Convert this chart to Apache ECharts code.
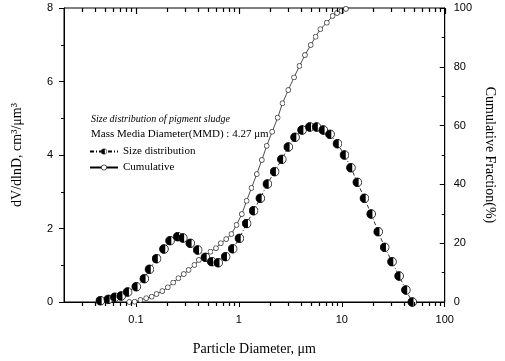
<!DOCTYPE html>
<html>
<head>
<meta charset="utf-8">
<script src="https://cdn.jsdelivr.net/npm/echarts@6/dist/echarts.min.js"></script>
<style>
  html, body { margin: 0; padding: 0; background: #fff; }
  #chart { width: 505px; height: 361px; }
</style>
</head>
<body>
<div id="chart"></div>
<script>
// particle diameters (um) and dV/dlnD for the size distribution
var distD = [0.0451, 0.0539, 0.0623, 0.0718, 0.083, 0.1007, 0.1205, 0.1353, 0.1584, 0.187,
  0.2143, 0.2546, 0.2854, 0.337, 0.3978, 0.4727, 0.545, 0.6295, 0.7434, 0.87,
  1.012, 1.189, 1.389, 1.615, 1.891, 2.223, 2.613, 3.019, 3.511, 4.109,
  4.882, 5.679, 6.602, 7.68, 9.067, 10.61, 12.26, 14.14, 16.58, 19.28,
  22.56, 26.08, 30.72, 36.03, 41.9, 48.31];
var distV = [0.035, 0.073, 0.128, 0.163, 0.272, 0.416, 0.634, 0.89, 1.178, 1.442,
  1.668, 1.777, 1.741, 1.597, 1.415, 1.216, 1.097, 1.069, 1.233, 1.448,
  1.733, 2.136, 2.484, 2.822, 3.211, 3.546, 3.883, 4.218, 4.482, 4.68,
  4.762, 4.762, 4.68, 4.563, 4.307, 4.0, 3.654, 3.257, 2.822, 2.395,
  1.913, 1.488, 1.097, 0.707, 0.327, 0.0];

// diameters (um) and cumulative fraction (%)
var cumD = [0.0861, 0.0971, 0.1105, 0.1258, 0.1423, 0.1584, 0.1804, 0.2039, 0.2301, 0.2585,
  0.2916, 0.3249, 0.3697, 0.409, 0.4656, 0.5299, 0.5993, 0.6676, 0.753, 0.8458,
  0.9484, 1.068, 1.189, 1.325, 1.492, 1.672, 1.863, 2.106, 2.381, 2.653,
  3.019, 3.436, 3.877, 4.384, 4.989, 5.558, 6.189, 7.152, 8.138, 8.987,
  9.945, 10.96];
var cumV = [0, 0.1, 0.7, 1.3, 1.8, 2.7, 3.7, 5.0, 6.6, 8.1,
  9.5, 10.9, 12.6, 14.3, 15.6, 17.1, 18.3, 20.0, 21.4, 23.1,
  26.2, 29.9, 34.4, 38.8, 43.5, 48.3, 53.1, 57.9, 62.7, 67.6,
  72.1, 76.4, 80.3, 84.0, 87.4, 90.2, 92.8, 95.0, 97.3, 98.3,
  99.0, 99.7];

// log-axis tick positions (major decades and minor 2..9 steps)
var majorTicks = [0.1, 1, 10, 100];
var minorTicks = [0.03, 0.04, 0.05, 0.06, 0.07, 0.08, 0.09,
  0.2, 0.3, 0.4, 0.5, 0.6, 0.7, 0.8, 0.9,
  2, 3, 4, 5, 6, 7, 8, 9,
  20, 30, 40, 50, 60, 70, 80, 90];

var serif = '"Liberation Serif", "DejaVu Serif", serif';
var sans = '"Liberation Sans", Arial, sans-serif';

// half filled circle marker
var halfSvg = "<svg xmlns='http://www.w3.org/2000/svg' width='20' height='20' viewBox='0 0 20 20'>" +
  "<circle cx='10' cy='10' r='8.8' fill='white' stroke='black' stroke-width='1.6'/>" +
  "<path d='M12.6 1.6 A8.8 8.8 0 1 0 12.6 18.4 Z' fill='black'/></svg>";
var halfSymbol = 'image://data:image/svg+xml;utf8,' + encodeURIComponent(halfSvg);
// thin open circle marker
var openSvg = "<svg xmlns='http://www.w3.org/2000/svg' width='24' height='24' viewBox='0 0 24 24'>" +
  "<circle cx='12' cy='12' r='10' fill='white' stroke='black' stroke-width='2.6'/></svg>";
var openSymbol = 'image://data:image/svg+xml;utf8,' + encodeURIComponent(openSvg);

function pairs(xs, ys) {
  return xs.map(function (x, i) { return [x, ys[i]]; });
}

var chart = echarts.init(document.getElementById('chart'), null, { renderer: 'canvas' });

chart.setOption({
  backgroundColor: '#fff',
  animation: false,
  grid: { left: 64, right: 46, top: 8, bottom: 59, show: true, borderColor: '#000', borderWidth: 1, backgroundColor: 'transparent' },
  title: {
    left: 86, top: 109,
    text: 'Size distribution of pigment sludge',
    subtext: 'Mass Media Diameter(MMD) : 4.27 μm',
    itemGap: 5,
    textStyle: { fontFamily: serif, fontSize: 10, fontStyle: 'italic', fontWeight: 'normal', color: '#000' },
    subtextStyle: { fontFamily: serif, fontSize: 11, color: '#000' }
  },
  legend: {
    left: 84, top: 141,
    orient: 'vertical',
    itemWidth: 28, itemHeight: 8, itemGap: 5,
    textStyle: { fontFamily: serif, fontSize: 11, color: '#000' },
    data: ['Size distribution', 'Cumulative']
  },
  xAxis: {
    type: 'log',
    min: 0.02,
    max: 100,
    name: 'Particle Diameter, μm',
    nameLocation: 'middle',
    nameGap: 40,
    nameTextStyle: { fontFamily: serif, fontSize: 14, color: '#000' },
    axisLine: { show: true, lineStyle: { color: '#000', width: 1 } },
    axisTick: { show: true, inside: false, length: 5, lineStyle: { color: '#000' } },
    splitLine: { show: false },
    axisLabel: {
      color: '#000', fontFamily: sans, fontSize: 11, margin: 12,
      showMinLabel: false,
      formatter: function (v) { return String(v); }
    }
  },
  yAxis: [
    {
      type: 'value',
      position: 'left',
      min: 0, max: 8, interval: 2,
      name: 'dV/dlnD, cm³/μm³',
      nameLocation: 'middle',
      nameGap: 40,
      nameTextStyle: { fontFamily: serif, fontSize: 14, color: '#000' },
      axisLine: { show: true, lineStyle: { color: '#000' } },
      axisTick: { show: true, inside: false, length: 5, lineStyle: { color: '#000' } },
      minorTick: { show: true, splitNumber: 2, length: 3, lineStyle: { color: '#000' } },
      axisLabel: { color: '#000', fontFamily: sans, fontSize: 11, margin: 11 },
      splitLine: { show: false }
    },
    {
      type: 'value',
      position: 'right',
      min: 0, max: 100, interval: 20,
      name: 'Cumulative Fraction(%)',
      nameLocation: 'middle',
      nameRotate: -90,
      nameGap: 34,
      nameTextStyle: { fontFamily: serif, fontSize: 14, color: '#000' },
      axisLine: { show: true, lineStyle: { color: '#000' } },
      axisTick: { show: true, inside: true, length: 5, lineStyle: { color: '#000' } },
      minorTick: { show: true, splitNumber: 2, length: 3, lineStyle: { color: '#000' } },
      axisLabel: { color: '#000', fontFamily: sans, fontSize: 11, margin: 9 },
      splitLine: { show: false }
    }
  ],
  series: [
    {
      name: 'Cumulative',
      type: 'line',
      yAxisIndex: 1,
      data: pairs(cumD, cumV),
      symbol: openSymbol,
      symbolSize: 6,
      showAllSymbol: true,
      itemStyle: { color: '#000' },
      lineStyle: { color: '#000', width: 0.7 },
      z: 2
    },
    {
      name: 'Size distribution',
      type: 'line',
      yAxisIndex: 0,
      data: pairs(distD, distV),
      symbol: halfSymbol,
      symbolSize: 10,
      showAllSymbol: true,
      itemStyle: { color: '#000' },
      lineStyle: { color: '#000', width: 0.8, type: [4, 2, 1, 2] },
      z: 3
    }
  ]
});

// log minor ticks (bottom, outward) and all ticks on the top edge (inward)
var yBottom = chart.convertToPixel({ yAxisIndex: 0 }, 0);
var yTop = chart.convertToPixel({ yAxisIndex: 0 }, 8);
var tickShapes = [];
function addTick(v, y, len) {
  var x = Math.round(chart.convertToPixel({ xAxisIndex: 0 }, v)) + 0.5;
  tickShapes.push({
    type: 'line',
    silent: true,
    z: 100,
    shape: { x1: x, y1: y, x2: x, y2: y + len },
    style: { stroke: '#000', lineWidth: 1.2 }
  });
}
majorTicks.forEach(function (v) { addTick(v, yTop, 6); });
minorTicks.forEach(function (v) {
  addTick(v, yTop, 4);
  addTick(v, yBottom, 4);
});
chart.setOption({ graphic: tickShapes });
</script>
</body>
</html>
